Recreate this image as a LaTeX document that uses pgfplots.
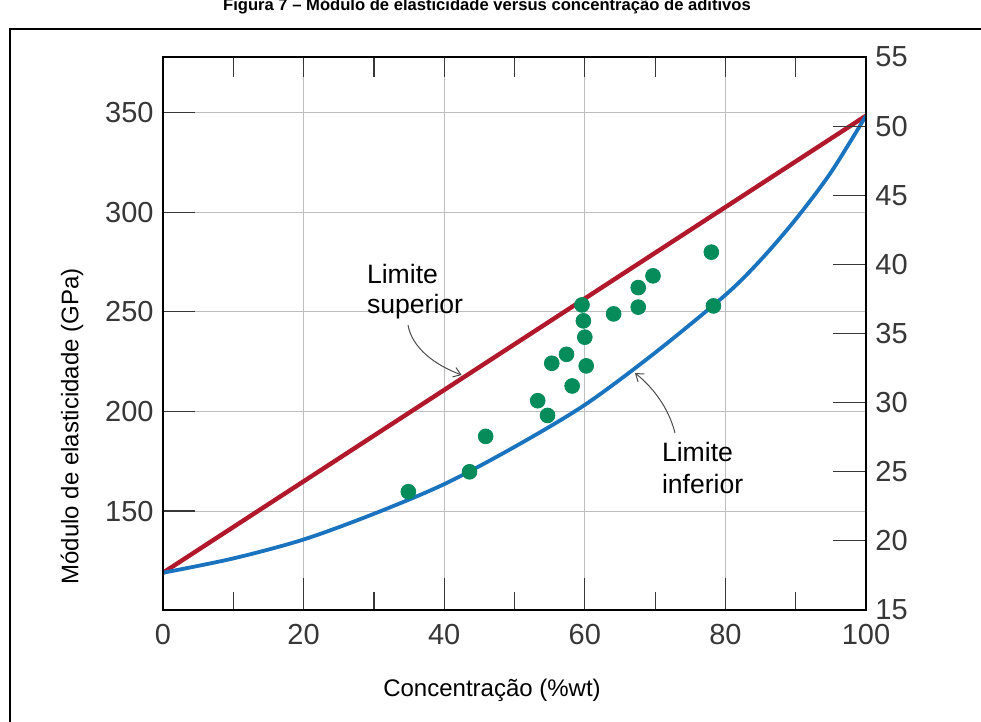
\documentclass[border=0pt]{standalone}
\usepackage{fontspec}
\setmainfont{Liberation Sans}
\usepackage{pgfplots}
\pgfplotsset{compat=1.18}
\usetikzlibrary{arrows.meta}
\definecolor{upred}{RGB}{178,24,43}
\definecolor{lowblue}{RGB}{25,115,190}
\definecolor{dotgreen}{RGB}{5,140,90}
\definecolor{tickgray}{RGB}{55,55,55}
\definecolor{gridgray}{RGB}{190,190,190}
\begin{document}
\begin{tikzpicture}
\useasboundingbox (0pt,0pt) rectangle (490.5pt,-361pt);
\draw[line width=1.2pt] (5pt,-380pt) -- (5pt,-14.5pt) -- (500pt,-14.5pt);
\node[anchor=base, font=\bfseries\fontsize{8.3}{10}\selectfont] at (243.5pt,-5.3pt) {Figura 7 – Módulo de elasticidade versus concentração de aditivos};
\pgfplotsset{common/.style={at={(81.5pt,-305pt)}, anchor=south west, scale only axis,
  width=351.5pt, height=276.5pt, xmin=0, xmax=100, tick align=inside,
  /pgf/number format/assume math mode=true,
  tick label style={font=\fontsize{14.5}{17}\selectfont, text=tickgray},
  tick style={tickgray, line width=0.6pt},
  axis line style={line width=1.3pt, black}}}
\begin{axis}[common, ymin=100.3, ymax=378,
  xtick={0,20,...,100}, minor xtick={10,30,...,90},
  ytick={150,200,...,350}, xtick pos=left, ytick pos=left,
  major tick length=16pt, minor tick length=9pt,
  grid=major, major grid style={gridgray, line width=0.5pt},
  xticklabel style={yshift=-3.5pt}, yticklabel style={xshift=-1.2pt},
  xlabel={Concentração (\%wt)}, ylabel={Módulo de elasticidade (GPa)},
  label style={font=\fontsize{12}{14}\selectfont, text=black},
  xlabel style={at={(axis description cs:0.468,-0.1447)}, anchor=center},
  ylabel style={at={(axis description cs:-0.1294,0.332)}, anchor=center}]
\addplot[upred, line width=2.2pt] coordinates {(0,119) (100,348.5)};
\addplot[lowblue, line width=1.9pt, smooth] coordinates {
(0,119) (10,126.2) (20,135.7) (30,148.6) (40,163.5) (50,182.2) (60,203.3)
(70,229.5) (80,258.5) (85,276) (90,296.5) (95,320) (100,348.5)};
\addplot[only marks, mark=*, mark size=3.7pt, color=dotgreen, fill=dotgreen] coordinates {
(34.9,159.7) (43.6,169.7) (45.9,187.5) (53.3,205.4) (54.7,198.0) (55.3,224.2)
(57.4,228.7) (58.2,212.8) (59.6,253.5) (59.8,245.5) (60.0,237.3) (60.2,222.9)
(64.1,249.0) (67.6,252.4) (67.6,262.2) (69.7,268.1) (78.0,280.0) (78.3,253.0)};
\end{axis}
\begin{axis}[common, ymin=15, ymax=55, hide x axis,
  ytick={15,20,...,55}, ytick pos=right, yticklabel pos=right,
  major tick length=16.5pt, yticklabel style={xshift=1.2pt}]
\end{axis}
\begin{axis}[common, ymin=0, ymax=1, hide y axis,
  xtick={10,20,...,90}, xtick pos=right, xticklabels={}, major tick length=10pt]
\end{axis}
\begin{scope}[font=\fontsize{13.3}{16}\selectfont]
\node[anchor=base west, inner sep=0pt] at (183.3pt,-141.7pt) {Limite};
\node[anchor=base west, inner sep=0pt] at (183.3pt,-157pt) {superior};
\node[anchor=base west, inner sep=0pt] at (330.8pt,-230.8pt) {Limite};
\node[anchor=base west, inner sep=0pt] at (330.8pt,-246.5pt) {inferior};
\end{scope}
\draw[gray!60!black, line width=0.5pt, -{Straight Barb[length=3.5pt,width=5pt]}]
  (204pt,-162.5pt) .. controls (206pt,-174pt) and (217.5pt,-182.5pt) .. (230.8pt,-187.5pt);
\draw[gray!60!black, line width=0.5pt, -{Straight Barb[length=3.5pt,width=5pt]}]
  (337.5pt,-216.5pt) .. controls (334pt,-202.5pt) and (325pt,-192.5pt) .. (317.5pt,-186.5pt);
\end{tikzpicture}
\end{document}
